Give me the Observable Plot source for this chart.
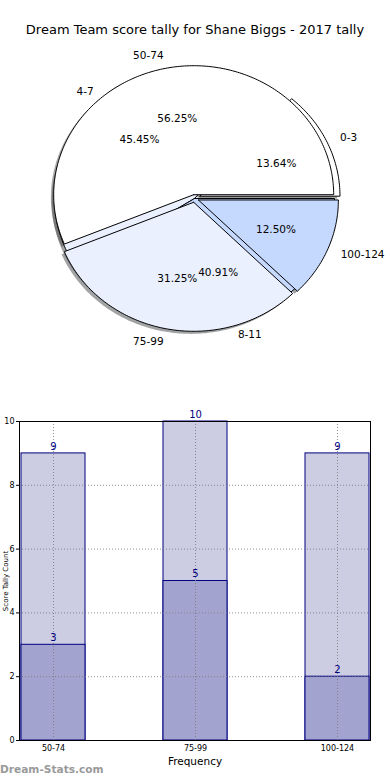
<!DOCTYPE html>
<html><head><meta charset="utf-8">
<script src="https://cdn.jsdelivr.net/npm/d3@7"></script>
<script src="https://cdn.jsdelivr.net/npm/@observablehq/plot@0.6"></script>
<style>
body{margin:0;background:#fff;font-family:"DejaVu Sans",sans-serif;}
#wrap{position:relative;width:390px;height:780px;overflow:hidden;background:#fff;}
#title{position:absolute;top:22px;left:0;width:390px;text-align:center;font-size:13px;line-height:16px;color:#000;}
#pie{position:absolute;top:0;left:0;}
#bar{position:absolute;top:400px;left:0;}
#wm{position:absolute;left:0;top:762px;font-size:10.6px;line-height:15px;font-weight:bold;color:#9a9a9a;}
</style></head><body>
<div id="wrap"><div id="pie"></div><div id="title">Dream Team score tally for Shane Biggs - 2017 tally</div><div id="bar"></div><div id="wm">Dream-Stats.com</div></div>
<script>
const pieACats = ["0-3", "4-7", "8-11"];
const pieAValues = [13.64, 45.45, 40.91];
const pieBCats = ["50-74", "75-99", "100-124"];
const pieBValues = [56.25, 31.25, 12.50];
const barCats = ["50-74", "75-99", "100-124"];
const barTotals = [9, 10, 9];
const barParts = [3, 5, 2];

const sliceColors = ["#ffffff", "#eaf0fe", "#c5d9fe"];
const explodeA = [0.043, 0, 0];
const explodeB = [0.03, 0.03, 0.03];

function shade(c) {
  const r = d3.rgb(c);
  return d3.rgb(r.r * 0.3, r.g * 0.3, r.b * 0.3).formatHex();
}
function wedges(cats, vals, explode, pieId) {
  const total = d3.sum(vals);
  let acc = 0;
  return cats.map((c, i) => {
    const a0 = acc / total * 360; acc += vals[i]; const a1 = acc / total * 360;
    const mid = (a0 + a1) / 2 * Math.PI / 180;
    return {id: pieId + i, cat: c, pct: vals[i] / total * 100, a0, a1, mid,
      ox: explode[i] * Math.cos(mid), oy: explode[i] * Math.sin(mid), color: sliceColors[i]};
  });
}
function outline(w, dx = 0, dy = 0) {
  const cx = w.ox + dx, cy = w.oy + dy;
  const pts = [{x: cx, y: cy}];
  const n = Math.max(2, Math.ceil(w.a1 - w.a0));
  for (let k = 0; k <= n; k++) {
    const a = (w.a0 + (w.a1 - w.a0) * k / n) * Math.PI / 180;
    pts.push({x: cx + Math.cos(a), y: cy + Math.sin(a)});
  }
  pts.push({x: cx, y: cy});
  return pts.map(p => ({...p, id: w.id, color: w.color, shadow: shade(w.color)}));
}

const wA = wedges(pieACats, pieAValues, explodeA, "A");
const wB = wedges(pieBCats, pieBValues, explodeB, "B");
const all = [...wA, ...wB];
const shadowPts = all.flatMap(w => outline(w, -0.02, -0.02));
const aPts = wA.flatMap(w => outline(w));
const bPts = wB.flatMap(w => outline(w));
const outerLab = all.map(w => ({x: w.ox + 1.1 * Math.cos(w.mid), y: w.oy + 1.1 * Math.sin(w.mid), t: w.cat, right: Math.cos(w.mid) >= 0}));
const pctLab = all.map(w => ({x: w.ox + 0.6 * Math.cos(w.mid), y: w.oy + 0.6 * Math.sin(w.mid), t: w.pct.toFixed(2) + "%"}));

const cx = 194, cy = 198, rx = 140, ry = 129, H = 380;
const pie = Plot.plot({
  width: 390, height: H, margin: 0,
  x: {domain: [-cx / rx, (390 - cx) / rx], axis: null},
  y: {domain: [-(H - cy) / ry, cy / ry], axis: null},
  color: {type: "identity"},
  style: {fontFamily: "DejaVu Sans", background: "transparent"},
  marks: [
    Plot.line(shadowPts, {x: "x", y: "y", z: "id", fill: "shadow", fillOpacity: 0.5, stroke: "none", curve: "linear"}),
    Plot.line(aPts, {x: "x", y: "y", z: "id", fill: "color", stroke: "black", strokeWidth: 1, curve: "linear"}),
    Plot.line(bPts, {x: "x", y: "y", z: "id", fill: "color", stroke: "black", strokeWidth: 1, curve: "linear"}),
    Plot.text(outerLab.filter(d => d.right), {x: "x", y: "y", text: "t", textAnchor: "start", fontSize: 10.5, fill: "black"}),
    Plot.text(outerLab.filter(d => !d.right), {x: "x", y: "y", text: "t", textAnchor: "end", fontSize: 10.5, fill: "black"}),
    Plot.text(pctLab, {x: "x", y: "y", text: "t", fontSize: 10.5, fill: "black"})
  ]
});
document.getElementById("pie").appendChild(pie);

const barData = barCats.map((c, i) => ({cat: c, total: barTotals[i], part: barParts[i]}));
const bar = Plot.plot({
  width: 390, height: 380,
  marginTop: 21, marginBottom: 40, marginLeft: 19, marginRight: 20,
  x: {type: "band", domain: barCats, paddingInner: 0.552, paddingOuter: 0.0035, label: null},
  y: {domain: [0, 10], label: null},
  style: {fontFamily: "DejaVu Sans", background: "transparent", overflow: "visible"},
  marks: [
    Plot.barY(barData, {x: "cat", y: "total", fill: "#ccccE3", stroke: "#000080", strokeWidth: 1, insetLeft: 0, insetRight: 0}),
    Plot.barY(barData, {x: "cat", y: "part", fill: "#a3a3d0", stroke: "#000080", strokeWidth: 1, insetLeft: 0, insetRight: 0}),
    Plot.gridY([2, 4, 6, 8], {stroke: "#777", strokeOpacity: 0.8, strokeDasharray: "1,2"}),
    Plot.gridX(barCats, {stroke: "#777", strokeOpacity: 0.8, strokeDasharray: "1,2"}),
    Plot.frame({stroke: "black"}),
    Plot.axisY({ticks: [0, 2, 4, 6, 8, 10], tickSize: 3, tickPadding: 2, fontSize: 8, label: null}),
    Plot.axisX({tickSize: 0, tickPadding: 5, fontSize: 8, label: null}),
    Plot.text(barData, {x: "cat", y: "total", text: d => String(d.total), dy: -7, fill: "#000080", fontSize: 10}),
    Plot.text(barData, {x: "cat", y: "part", text: d => String(d.part), dy: -7, fill: "#000080", fontSize: 10}),
    Plot.text(["Frequency"], {frameAnchor: "bottom", dy: 21, lineAnchor: "middle", textAnchor: "middle", fontSize: 10.5, fill: "black"}),
    Plot.text(["Score Tally Count"], {frameAnchor: "left", dx: -14, rotate: -90, textAnchor: "middle", lineAnchor: "middle", fontSize: 7, fill: "black"})
  ]
});
document.getElementById("bar").appendChild(bar);
</script>
</body></html>
